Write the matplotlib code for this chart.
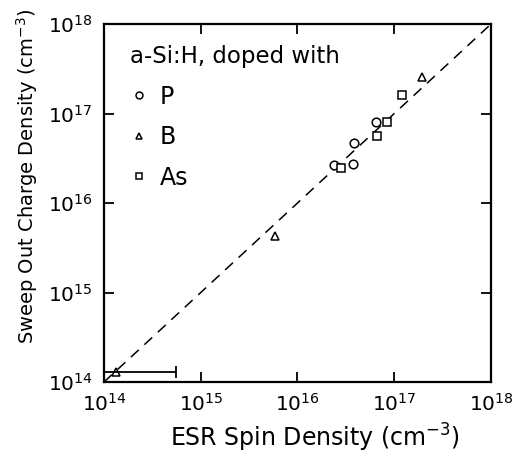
# esr_vs_sweep_out.py
# Sweep-out charge density vs ESR spin density for doped a-Si:H,
# log-log scatter with the y = x guide line.

import numpy as np
import matplotlib
matplotlib.use("Agg")
import matplotlib.pyplot as plt
from matplotlib.ticker import LogLocator

# Data (cm^-3)
p_esr = [6.5e16, 3.87e16, 3.77e16, 2.4e16]
p_sweep = [8.1e16, 4.65e16, 2.73e16, 2.64e16]

b_esr = [1.95e17, 5.85e15, 1.33e14]
b_sweep = [2.57e17, 4.3e15, 1.3e14]

as_esr = [1.2e17, 8.5e16, 6.7e16, 2.8e16]
as_sweep = [1.61e17, 7.97e16, 5.6e16, 2.44e16]

# error bar on the lowest B point (x direction)
b_low_x = 1.33e14
b_low_y = 1.3e14
b_low_xerr_lo = 0.33e14
b_low_xerr_hi = 4.27e14

lims = [1e14, 1e18]

plt.rcParams["font.family"] = "DejaVu Sans"
plt.rcParams["mathtext.fontset"] = "dejavusans"

fig = plt.figure(figsize=(5.21, 4.54), dpi=100)
ax = fig.add_axes([0.1996, 0.1586, 0.7428, 0.7884])

ax.plot(lims, lims, color="black", lw=1.1, dashes=(7, 5))

mk = dict(linestyle="none", markerfacecolor="white", markeredgecolor="black",
          markeredgewidth=1.1, clip_on=False)
ax.plot(p_esr, p_sweep, marker="o", markersize=6.2, label="P", **mk)
ax.plot(b_esr, b_sweep, marker="^", markersize=6.2, label="B", **mk)
ax.plot(as_esr, as_sweep, marker="s", markersize=5.4, label="As", **mk)

ax.errorbar([b_low_x], [b_low_y], xerr=[[b_low_xerr_lo], [b_low_xerr_hi]],
            fmt="none", ecolor="black", elinewidth=1.3, capsize=4, capthick=1.3,
            clip_on=False)

ax.set_xscale("log")
ax.set_yscale("log")
ax.set_xlim(lims)
ax.set_ylim(lims)
ax.xaxis.set_major_locator(LogLocator(base=10, numticks=10))
ax.yaxis.set_major_locator(LogLocator(base=10, numticks=10))
ax.minorticks_off()

ax.tick_params(which="major", direction="in", length=7, width=1.3,
               top=True, right=True, labelsize=14.5, pad=8)
for s in ax.spines.values():
    s.set_linewidth(1.6)

ax.set_xlabel("ESR Spin Density (cm$^{-3}$)", fontsize=17)
ax.xaxis.set_label_coords(0.545, -0.112)
ax.set_ylabel("Sweep Out Charge Density (cm$^{-3}$)", fontsize=14)
ax.yaxis.set_label_coords(-0.165, 0.575)

leg = ax.legend(title="a-Si:H, doped with", loc="upper left",
                bbox_to_anchor=(0.068, 0.941),
                frameon=False, fontsize=17, title_fontsize=16.5,
                markerscale=0.8, handlelength=0.7, handletextpad=0.55,
                labelspacing=0.7, alignment="left", borderpad=0,
                borderaxespad=0)

fig.savefig("out.png", dpi=100)
